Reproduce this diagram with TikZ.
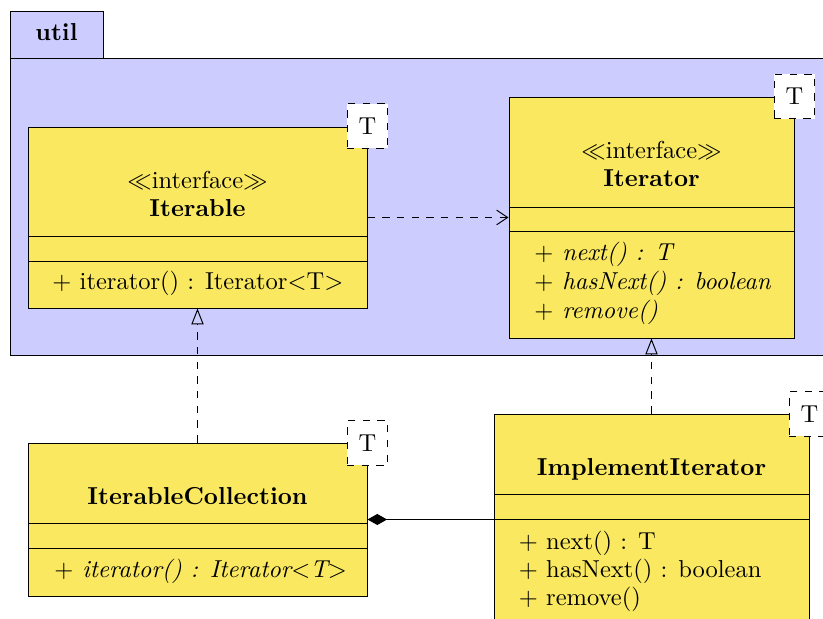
\documentclass[tikz,border=0pt]{standalone}
\usetikzlibrary{arrows.meta,fit}
\definecolor{classfill}{RGB}{250,233,96}
\definecolor{pkgfill}{RGB}{204,204,255}
\begin{document}
\begin{tikzpicture}[x=0.4082pt,y=-0.4082pt,
  pkgbox/.style={draw=black, line width=0.4pt, inner sep=0pt, fill=pkgfill},
  classbox/.style={draw=black, line width=0.4pt, inner sep=0pt, fill=classfill},
  tmpl/.style={draw=black, dashed, fill=white, inner sep=0pt, minimum width=16.7pt, minimum height=18pt},
  lbl/.style={anchor=base, inner sep=0pt},
  op/.style={anchor=base west, inner sep=0pt},
  sep/.style={draw=black, line width=0.4pt},
  dep/.style={dashed, -{Straight Barb[length=4.5pt,width=6pt]}},
  realize/.style={dashed, -{Triangle[open,length=6.5pt,width=5pt]}},
  compo/.style={{Diamond[length=8pt,width=4.5pt]}-}
]
\useasboundingbox (0,0) rectangle (823,619);
\clip (0,0) rectangle (823,619);

% package util
\node[pkgbox, fit={(10,11) (103,58)}] (pkgtab) {};
\node[pkgbox, fit={(10,58) (850,355)}] (pkg) {};
\node[lbl, font=\bfseries] (pkgname) at (56.5,41) {util};

% Iterable
\node[classbox, fit={(28,127) (367,308)}] (iterable) {};
\draw[sep] (28,236) -- (367,236);
\draw[sep] (28,261) -- (367,261);
\node[lbl] (iterablest) at (197.5,189) {$\ll$interface$\gg$};
\node[lbl, font=\bfseries] (iterablename) at (197.5,217) {Iterable};
\node[op] (iterableop) at (52,290) {$+$ iterator() : Iterator$<$T$>$};
\node[tmpl] (iterablet) at (367.5,126) {T};

% Iterator
\node[classbox, fit={(509,97) (794,338)}] (iterator) {};
\draw[sep] (509,207) -- (794,207);
\draw[sep] (509,231) -- (794,231);
\node[lbl] (iteratorst) at (651.5,159) {$\ll$interface$\gg$};
\node[lbl, font=\bfseries] (iteratorname) at (651.5,187) {Iterator};
\node[op] (iteratorop1) at (534,261) {\textit{$+$ next() : T}};
\node[op] (iteratorop2) at (534,290) {\textit{$+$ hasNext() : boolean}};
\node[op] (iteratorop3) at (534,319) {\textit{$+$ remove()}};
\node[tmpl] (iteratort) at (794.5,96.5) {T};

% IterableCollection
\node[classbox, fit={(28,443) (367,596)}] (itcoll) {};
\draw[sep] (28,523) -- (367,523);
\draw[sep] (28,548) -- (367,548);
\node[lbl, font=\bfseries] (itcollname) at (197.5,505) {IterableCollection};
\node[op] (itcollop) at (54,578) {\textit{$+$ iterator() : Iterator$<$T$>$}};
\node[tmpl] (itcollt) at (367.5,443) {T};

% ImplementIterator
\node[classbox, fit={(494,414) (809,660)}] (impl) {};
\draw[sep] (494,494) -- (809,494);
\draw[sep] (494,519) -- (809,519);
\node[lbl, font=\bfseries] (implname) at (651.5,476) {ImplementIterator};
\node[op] (implop1) at (518.5,550) {$+$ next() : T};
\node[op] (implop2) at (518.5,578) {$+$ hasNext() : boolean};
\node[op] (implop3) at (518.5,606) {$+$ remove()};
\node[tmpl] (implt) at (809.5,414) {T};

% connectors
\draw[dep] (iterable.east) -- (iterator.west |- iterable.east);
\draw[realize] (itcoll.north) -- (iterable.south);
\draw[realize] (impl.north -| iterator.south) -- (iterator.south);
\draw[compo] (itcoll.east) -- (impl.west |- itcoll.east);
\end{tikzpicture}
\end{document}
